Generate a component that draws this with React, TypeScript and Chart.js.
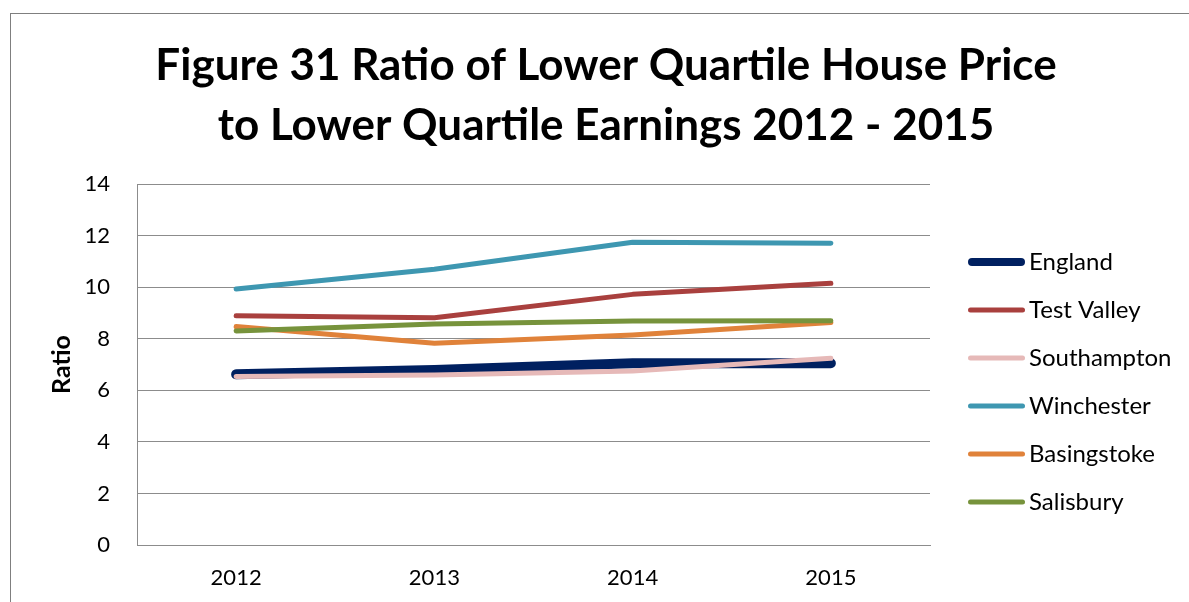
import React, { useEffect, useRef } from "react";
import { Chart, registerables } from "chart.js";

Chart.register(...registerables);

const years = ["2012", "2013", "2014", "2015"];
const england = [6.62, 6.79, 7.05, 7.05];
const testValley = [8.89, 8.81, 9.72, 10.15];
const southampton = [6.53, 6.59, 6.75, 7.24];
const winchester = [9.93, 10.69, 11.74, 11.7];
const basingstoke = [8.47, 7.82, 8.14, 8.63];
const salisbury = [8.3, 8.57, 8.69, 8.7];

const seriesNames = ["England", "Test Valley", "Southampton", "Winchester", "Basingstoke", "Salisbury"];
const seriesColors = ["#002060", "#A9403E", "#E6B9B8", "#3E97B1", "#E0823A", "#77933C"];
const seriesWidths = [10, 5, 5, 5, 5, 5];
const seriesValues = [england, testValley, southampton, winchester, basingstoke, salisbury];

const titleLines = ["Figure 31 Ratio of Lower Quartile House Price", "to Lower Quartile Earnings 2012 - 2015"];
const FONT = "Lato, 'Noto Sans', sans-serif";

const legendPlugin = {
  id: "sideLegend",
  afterDraw(chart: any) {
    const { ctx, chartArea } = chart;
    ctx.save();
    chart.data.datasets.forEach((ds: any, i: number) => {
      const y = chartArea.top + 78 + i * 48;
      const x0 = chartArea.right + 38;
      const x1 = chartArea.right + 95;
      ctx.beginPath();
      ctx.strokeStyle = ds.borderColor;
      ctx.lineWidth = ds.borderWidth === 10 ? 8 : 5;
      ctx.lineCap = "round";
      ctx.moveTo(x0 + ctx.lineWidth / 2, y);
      ctx.lineTo(x1 - ctx.lineWidth / 2, y);
      ctx.stroke();
      ctx.fillStyle = "#000";
      ctx.font = `24px ${FONT}`;
      ctx.textBaseline = "middle";
      ctx.textAlign = "left";
      ctx.fillText(ds.label, chartArea.right + 99, y);
    });
    ctx.restore();
  },
};

export default function App() {
  const ref = useRef<HTMLCanvasElement>(null);
  useEffect(() => {
    if (!ref.current) return;
    const chart = new Chart(ref.current, {
      type: "line",
      data: {
        labels: years,
        datasets: seriesNames.map((name, i) => ({
          label: name,
          data: seriesValues[i],
          borderColor: seriesColors[i],
          backgroundColor: seriesColors[i],
          borderWidth: seriesWidths[i],
          borderCapStyle: "round" as const,
          borderJoinStyle: "round" as const,
          pointRadius: 0,
          tension: 0,
          yAxisID: "y",
          order: seriesNames.length - i,
        })),
      },
      options: {
        responsive: false,
        animation: false,
        devicePixelRatio: 1,
        layout: { padding: { left: 32, right: 34, top: 0, bottom: 12 } },
        plugins: {
          legend: { display: false },
          tooltip: { enabled: false },
          title: {
            display: true,
            text: titleLines,
            color: "#000",
            font: { family: FONT, size: 44, weight: "bold", lineHeight: 60 / 44 },
            padding: { top: 22, bottom: 28 },
          },
        },
        scales: {
          x: {
            offset: true,
            afterFit: (scale: any) => {
              scale.height = 45;
            },
            grid: { display: false, drawTicks: false },
            border: { display: true, color: "#8c8c8c", width: 1 },
            ticks: { color: "#000", font: { family: FONT, size: 22 }, padding: 20 },
          },
          y: {
            min: 0,
            max: 14,
            afterFit: (scale: any) => {
              scale.width = 94;
            },
            grid: { color: "#8c8c8c", lineWidth: 1, drawTicks: false },
            border: { display: true, color: "#8c8c8c", width: 1 },
            ticks: { stepSize: 2, color: "#000", font: { family: FONT, size: 22 }, padding: 27 },
            title: {
              display: true,
              text: "Ratio",
              color: "#000",
              font: { family: FONT, size: 25, weight: "bold" },
            },
          },
          y2: {
            type: "linear",
            position: "right",
            min: 0,
            max: 14,
            afterFit: (scale: any) => {
              scale.width = 239;
            },
            grid: { display: false, drawTicks: false },
            border: { display: false },
            ticks: { display: false },
          },
        },
      },
      plugins: [legendPlugin],
    });
    return () => chart.destroy();
  }, []);

  return (
    <div style={{ position: "fixed", left: 0, top: 0, width: 1189, height: 602, overflow: "hidden", background: "#fff" }}>
      <div
        style={{
          position: "absolute",
          left: 10,
          top: 13,
          width: 1192,
          height: 600,
          borderLeft: "1px solid #7f7f7f",
          borderTop: "1px solid #7f7f7f",
        }}
      >
        <canvas ref={ref} width={1192} height={588} style={{ display: "block" }} />
      </div>
    </div>
  );
}
